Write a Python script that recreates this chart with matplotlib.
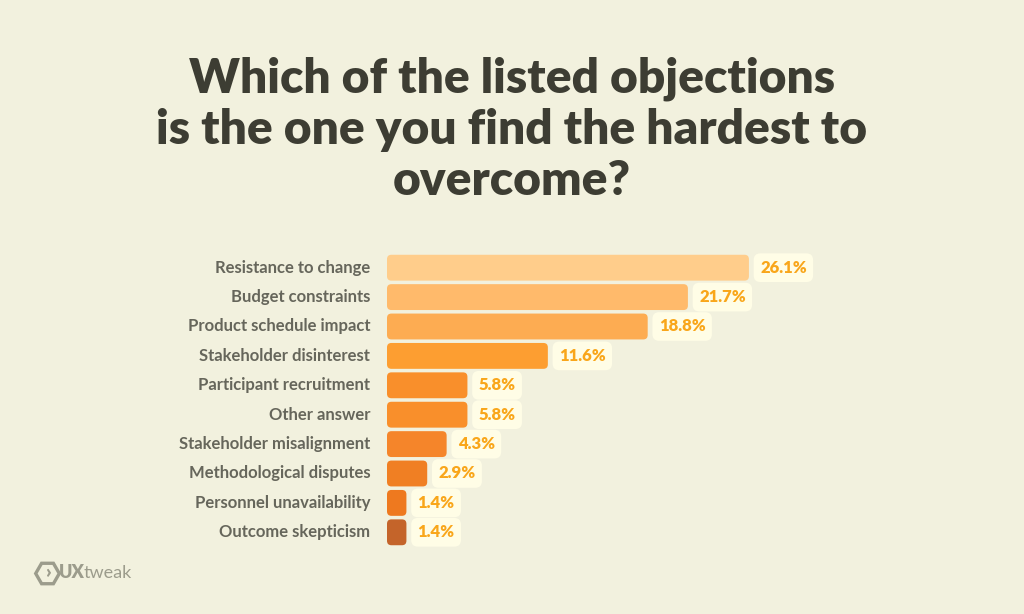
import matplotlib.pyplot as plt
from matplotlib.patches import FancyBboxPatch
from matplotlib.lines import Line2D

categories = ['Resistance to change', 'Budget constraints', 'Product schedule impact',
              'Stakeholder disinterest', 'Participant recruitment', 'Other answer',
              'Stakeholder misalignment', 'Methodological disputes',
              'Personnel unavailability', 'Outcome skepticism']
values = [26.1, 21.7, 18.8, 11.6, 5.8, 5.8, 4.3, 2.9, 1.4, 1.4]
colors = ['#FFCD8B', '#FFBA6B', '#FDAC52', '#FD9E31', '#F98F2B', '#F98F2B',
          '#F5852A', '#F07F23', '#EE791F', '#C4642A']

bg = '#F2F1DE'
plt.rcParams['font.family'] = ['Lato', 'DejaVu Sans']

fig = plt.figure(figsize=(10.24, 6.14), dpi=100, facecolor=bg)
ax = fig.add_axes([387 / 1024, 1 - 547 / 614, 416 / 1024, 294 / 614])
ax.set_facecolor(bg)
ax.set_xlim(0, 30)
ax.set_ylim(len(values) - 0.5, -0.5)

# aspect of one x unit vs one y unit in pixels
xpx = 416 / 30
ypx = 294 / len(values)
h = 0.88
for i, (v, c) in enumerate(zip(values, colors)):
    p = FancyBboxPatch((0, i - h / 2), v, h,
                       boxstyle='round,pad=0,rounding_size=0.32',
                       mutation_aspect=xpx / ypx,
                       facecolor=c, edgecolor='none')
    ax.add_patch(p)
    ax.text(v + 0.8, i, f'{v}%', va='center', ha='left', fontsize=12,
            fontweight='heavy', color='#F9A61A',
            bbox=dict(boxstyle='round,pad=0.38,rounding_size=0.4',
                      facecolor='#FFFDE6', edgecolor='none'))
    ax.text(-1.2, i, categories[i], va='center', ha='right', fontsize=12,
            color='#66665B', fontweight='bold')

ax.axis('off')

title = 'Which of the listed objections\nis the one you find the hardest to\novercome?'
fig.text(0.5, 1 - 130 / 614, title, ha='center', va='center', fontsize=34.5,
         fontweight='heavy', color='#3D3D33', linespacing=1.2)

# logo
fig.add_artist(Line2D([47 / 1024], [1 - 573 / 614], marker='H', markersize=17,
                      mfc='none', mec='#9C9C8C', mew=2.4, transform=fig.transFigure))
fig.text(48 / 1024, 1 - 573 / 614, '›', ha='center', va='center', fontsize=14,
         fontweight='heavy', color='#9C9C8C')
ux = fig.text(59 / 1024, 1 - 573 / 614, 'UX', ha='left', va='center', fontsize=13,
              fontweight='heavy', color='#9C9C8C')
fig.add_artist(plt.Annotation('tweak', xy=(1, 0.5), xycoords=ux, xytext=(-1, 0),
                              textcoords='offset points', ha='left', va='center',
                              fontsize=13, color='#9C9C8C'))

fig.savefig('out.png', facecolor=bg)
